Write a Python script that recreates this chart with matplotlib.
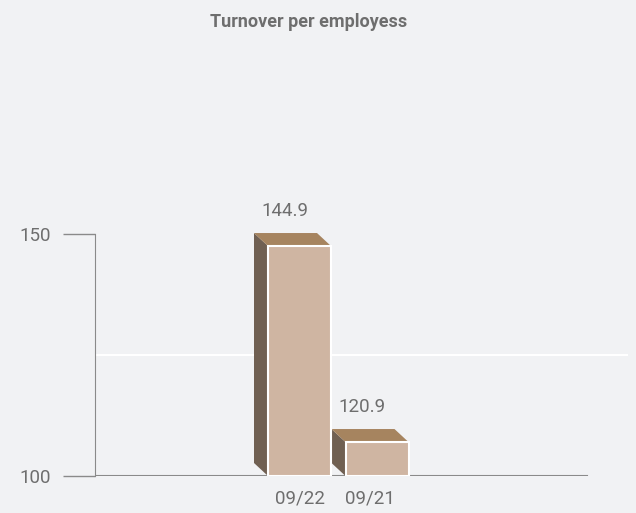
import numpy as np
import matplotlib
matplotlib.use('Agg')
import matplotlib.pyplot as plt
from matplotlib.patches import Polygon

plt.rcParams['font.family'] = ['Roboto', 'DejaVu Sans']

# data
categories = ['09/22', '09/21']
values = np.array([144.9, 120.9])
title = 'Turnover per employess'

# value axis shown on the left, bars sit on their own hidden scale
axis_ticks = [100, 150]
bar_floor = 116.74

bg = '#f1f2f4'
c_front = '#cfb5a2'
c_top = '#a6845f'
c_side = '#706052'
c_axis = '#8a8a8a'
c_text = '#6e6e6e'

W, H = 636, 513
fig = plt.figure(figsize=(W / 100, H / 100), dpi=100, facecolor=bg)
ax = fig.add_axes([95 / W, 37 / H, 533 / W, 416 / H])
ax.set_facecolor('none')

px_y = 242 / 50.0           # pixels per unit on the visible axis
ax.set_ylim(100, 100 + 416 / px_y)
px_x = 77.5                 # pixels between categories
x = np.arange(len(categories))
ax.set_xlim((95 - 299.5) / px_x, (628 - 299.5) / px_x)

for s in ['top', 'right', 'bottom']:
    ax.spines[s].set_visible(False)
ax.spines['left'].set_bounds(100, 150)
ax.spines['left'].set_color(c_axis)
ax.set_yticks(axis_ticks)
ax.tick_params(axis='y', length=23, width=1, color=c_axis, pad=9,
               labelsize=13.5, labelcolor=c_text)
ax.set_xticks(x)
ax.set_xticklabels(categories)
ax.tick_params(axis='x', length=0, pad=10, labelsize=13.5, labelcolor=c_text)
xl = ax.get_xticklabels()
# nudge the second category label toward the first
import matplotlib.transforms as mtrans
xl[1].set_transform(xl[1].get_transform() + mtrans.ScaledTranslation(-5 / 72, 0, fig.dpi_scale_trans))

ax.axhline(125, color='white', lw=1.5, zorder=1)
ax.axhline(100, xmin=0, xmax=(587 - 95) / 533, color=c_axis, lw=1.5, zorder=1)

# bars on a twin scale
ax2 = ax.twinx()
ax2.axis('off')
bar_px = 196 / 24.0
ax2.set_ylim(bar_floor, bar_floor + 416 / bar_px)

w = 63 / px_x
dx = 14 / px_x
dy = 13 / bar_px
for xi, v in zip(x, values):
    x0, x1 = xi - w / 2, xi + w / 2
    side = Polygon([(x0, bar_floor), (x0, v), (x0 - dx, v + dy), (x0 - dx, bar_floor + dy)],
                   closed=True, facecolor=c_side, edgecolor='none', zorder=2)
    top = Polygon([(x0, v), (x1, v), (x1 - dx, v + dy), (x0 - dx, v + dy)],
                  closed=True, facecolor=c_top, edgecolor='none', zorder=2)
    ax2.add_patch(side)
    ax2.add_patch(top)
    ax2.annotate(f'{v:.1f}', xy=(xi, v), xytext=(-15, 26), textcoords='offset pixels',
                 ha='center', va='bottom', fontsize=13.5, color=c_text)

ax2.bar(x, values - bar_floor, bottom=bar_floor, width=w, color=c_front,
        edgecolor='white', linewidth=1.5, zorder=3)

fig.text(309 / W, 1 - 22 / H, title, ha='center', va='center', fontsize=13,
         fontweight='bold', color=c_text)

fig.savefig('out.png', facecolor=bg)
